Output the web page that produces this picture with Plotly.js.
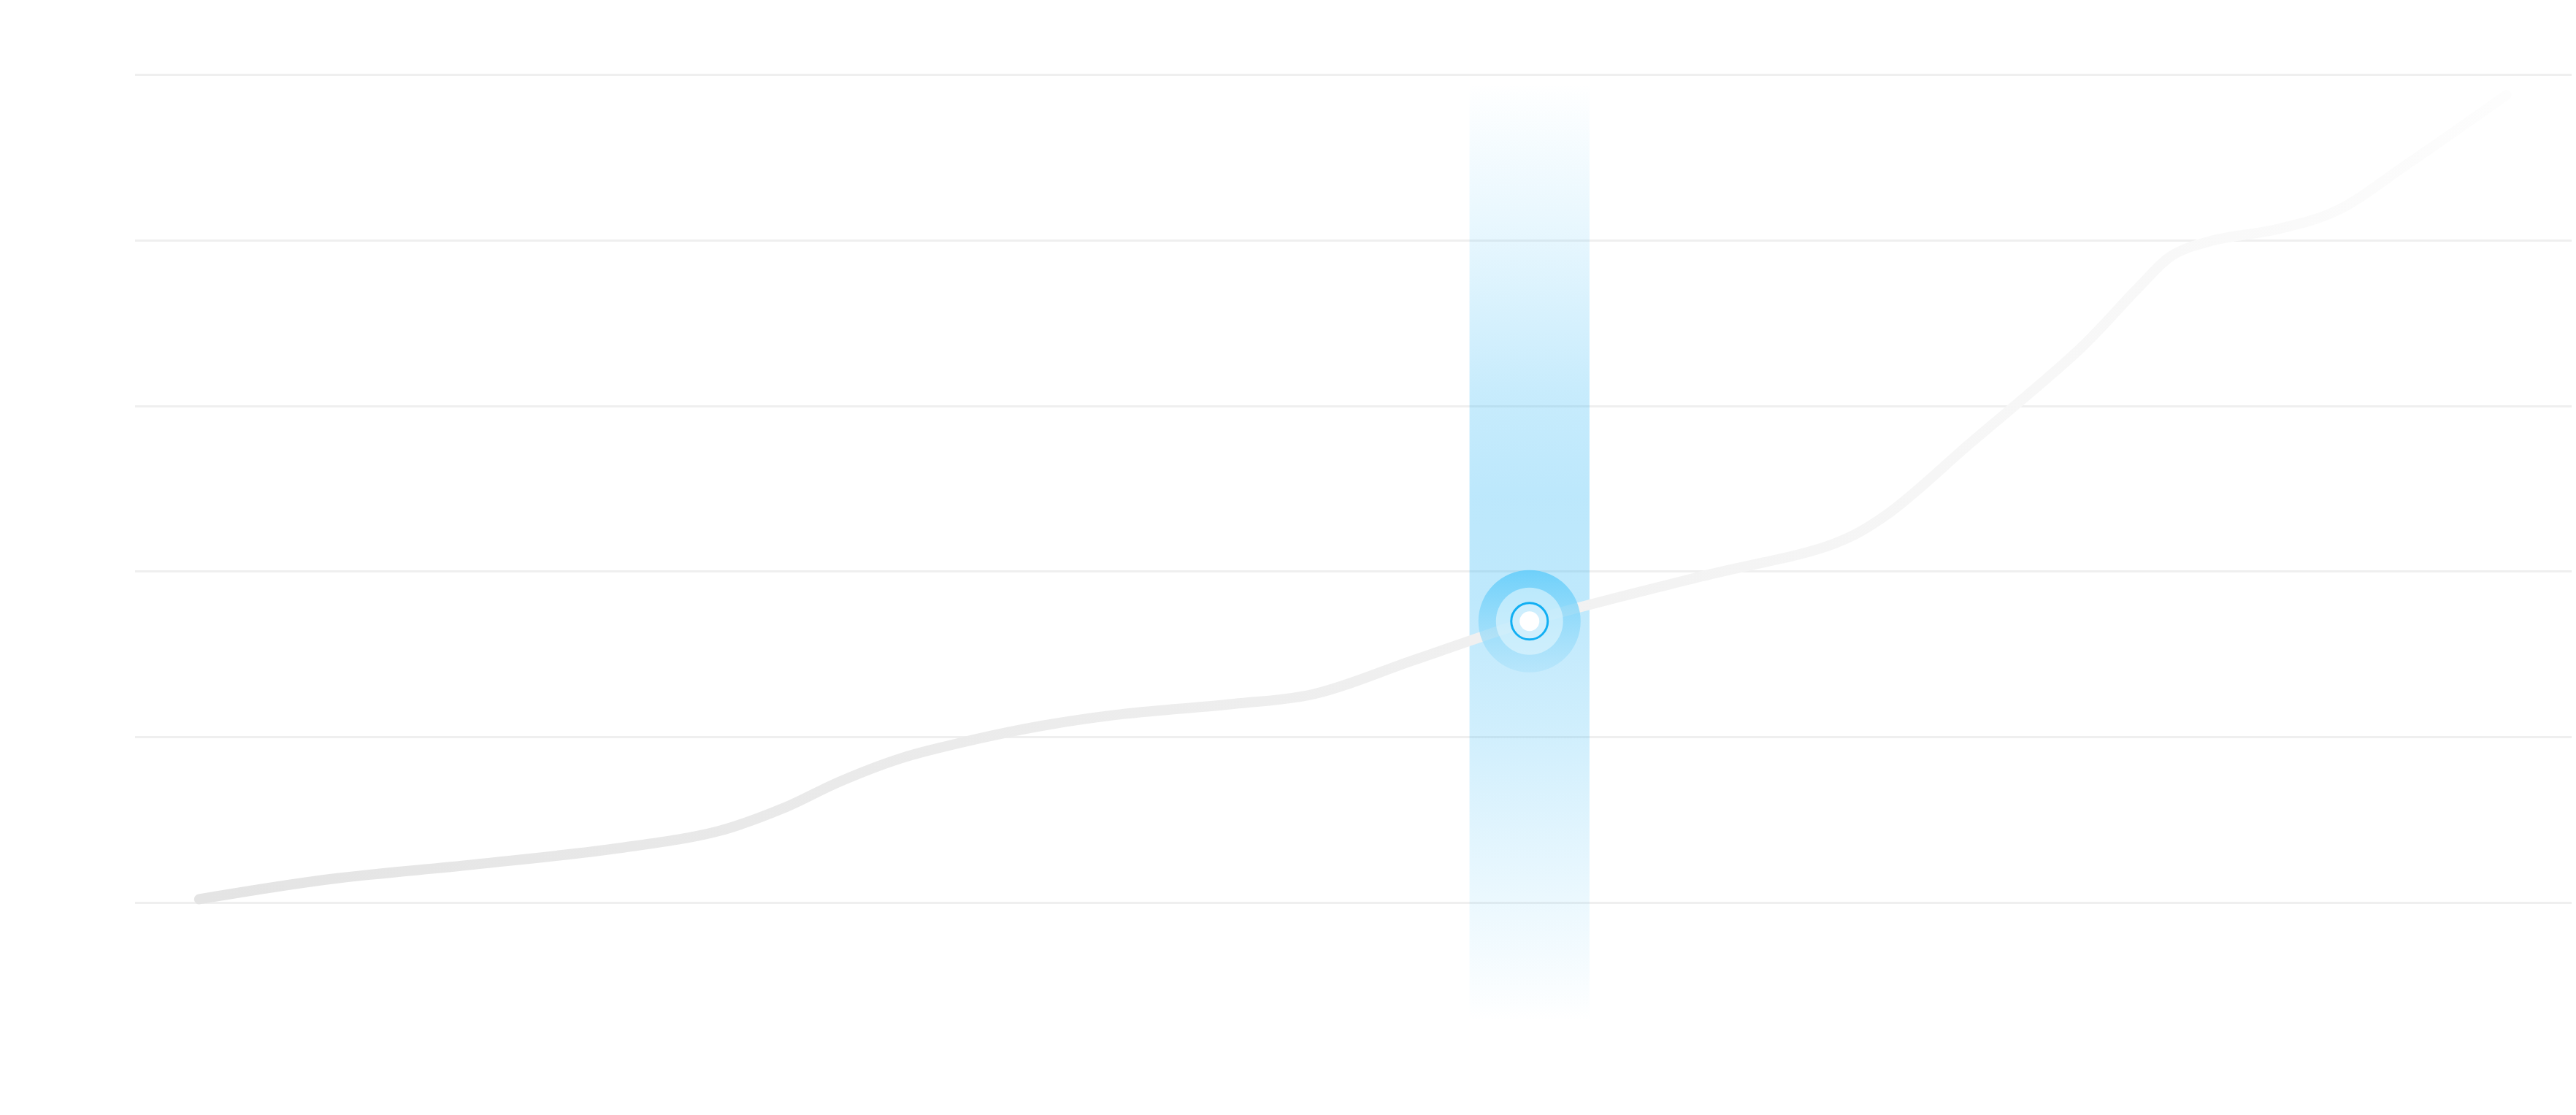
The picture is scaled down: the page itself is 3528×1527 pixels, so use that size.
<!DOCTYPE html>
<html>
<head>
<meta charset="utf-8">
<script src="https://cdn.plot.ly/plotly-3.0.1.min.js"></script>
<style>
  html, body { margin: 0; padding: 0; background: #ffffff; }
  #chart { width: 3528px; height: 1527px; }
</style>
</head>
<body>
<div id="chart"></div>
<script>
// ---- data ----
const seriesX = [0, 5.60, 11.93, 18.26, 22.47, 25.32, 27.75, 30.38, 33.45, 36.61, 40.09, 44.84, 48.32, 52.75, 57.66, 65.09, 70.89, 73.10, 76.80, 81.55, 84.08, 85.51, 87.25, 90.09, 92.63, 95.79, 100];
const seriesY = [0.02, 0.14, 0.23, 0.33, 0.43, 0.57, 0.73, 0.87, 0.98, 1.07, 1.14, 1.20, 1.26, 1.47, 1.70, 1.97, 2.17, 2.34, 2.78, 3.35, 3.72, 3.91, 4.00, 4.07, 4.18, 4.47, 4.88];
const highlightIndex = 14;
const highlightHalfWidth = 2.6;
const bandYRange = [-0.72, 4.95];
const gridTicks = [0, 1, 2, 3, 4, 5];

const hx = seriesX[highlightIndex];
const hy = seriesY[highlightIndex];

const band = {
  x: [hx - highlightHalfWidth, hx + highlightHalfWidth, hx + highlightHalfWidth, hx - highlightHalfWidth, hx - highlightHalfWidth],
  y: [bandYRange[0], bandYRange[0], bandYRange[1], bandYRange[1], bandYRange[0]],
  mode: 'lines', fill: 'toself', line: {width: 0, color: 'rgba(0,0,0,0)'},
  fillgradient: {
    type: 'vertical',
    start: bandYRange[0], stop: bandYRange[1],
    colorscale: [
      [0, 'rgba(40,180,245,0)'],
      [0.08, 'rgba(40,180,245,0.06)'],
      [0.2, 'rgba(40,180,245,0.14)'],
      [0.31, 'rgba(40,180,245,0.22)'],
      [0.45, 'rgba(40,180,245,0.30)'],
      [0.56, 'rgba(40,180,245,0.31)'],
      [0.67, 'rgba(40,180,245,0.26)'],
      [0.83, 'rgba(40,180,245,0.12)'],
      [0.93, 'rgba(40,180,245,0.05)'],
      [1, 'rgba(40,180,245,0)']
    ]
  },
  hoverinfo: 'skip', showlegend: false
};

const line = {
  x: seriesX, y: seriesY, mode: 'lines',
  line: {color: '#e6e6e6', width: 14, shape: 'spline', smoothing: 1},
  hoverinfo: 'skip', showlegend: false
};

function dot(size, color, opts) {
  return {
    x: [hx], y: [hy], mode: 'markers', hoverinfo: 'skip', showlegend: false, cliponaxis: false,
    marker: Object.assign({size: size, color: color, line: {width: 0}}, opts || {})
  };
}

const outer = dot(140, 'rgba(100,205,250,0.88)', {gradient: {type: 'vertical', color: 'rgba(170,225,250,0.55)'}});
const middle = dot(92, 'rgba(228,246,254,0.6)');
const ring = dot(50, 'rgba(215,241,253,0.55)', {line: {width: 3, color: '#12aff3'}});
const core = dot(27, '#ffffff');

const layout = {
  width: 3528, height: 1527,
  margin: {l: 185, r: 6, t: 20, b: 27},
  paper_bgcolor: '#ffffff', plot_bgcolor: '#ffffff',
  showlegend: false,
  xaxis: {range: [-2.78, 102.83], showgrid: false, zeroline: false, showticklabels: false, showline: false, ticks: ''},
  yaxis: {range: [-1.165, 5.366], tickvals: gridTicks, showgrid: true, gridcolor: '#efefef', gridwidth: 3,
          zeroline: false, showticklabels: false, showline: false, ticks: ''}
};

Plotly.newPlot('chart', [band, line, outer, middle, ring, core], layout, {staticPlot: true, displayModeBar: false}).then(function(gd) {
  const svg = gd.querySelector('svg.main-svg');
  const ns = 'http://www.w3.org/2000/svg';
  let defs = svg.querySelector('defs');
  if (!defs) { defs = document.createElementNS(ns, 'defs'); svg.insertBefore(defs, svg.firstChild); }
  const lg = document.createElementNS(ns, 'linearGradient');
  lg.setAttribute('id', 'lineFade');
  lg.setAttribute('x1', '0'); lg.setAttribute('x2', '1'); lg.setAttribute('y1', '0'); lg.setAttribute('y2', '0');
  [[0, '#e4e4e4'], [0.28, '#eaeaea'], [0.55, '#f0f0f0'], [0.7, '#f5f5f5'], [0.85, '#f8f8f8'], [1, '#fdfdfd']].forEach(function(s) {
    const st = document.createElementNS(ns, 'stop');
    st.setAttribute('offset', s[0]); st.setAttribute('stop-color', s[1]);
    lg.appendChild(st);
  });
  defs.appendChild(lg);
  const traces = gd.querySelectorAll('.scatterlayer .trace');
  const path = traces[1] && traces[1].querySelector('path.js-line');
  if (path) {
    path.style.stroke = 'url(#lineFade)';
    path.style.strokeLinecap = 'round';
    path.style.strokeLinejoin = 'round';
  }
});
</script>
</body>
</html>
